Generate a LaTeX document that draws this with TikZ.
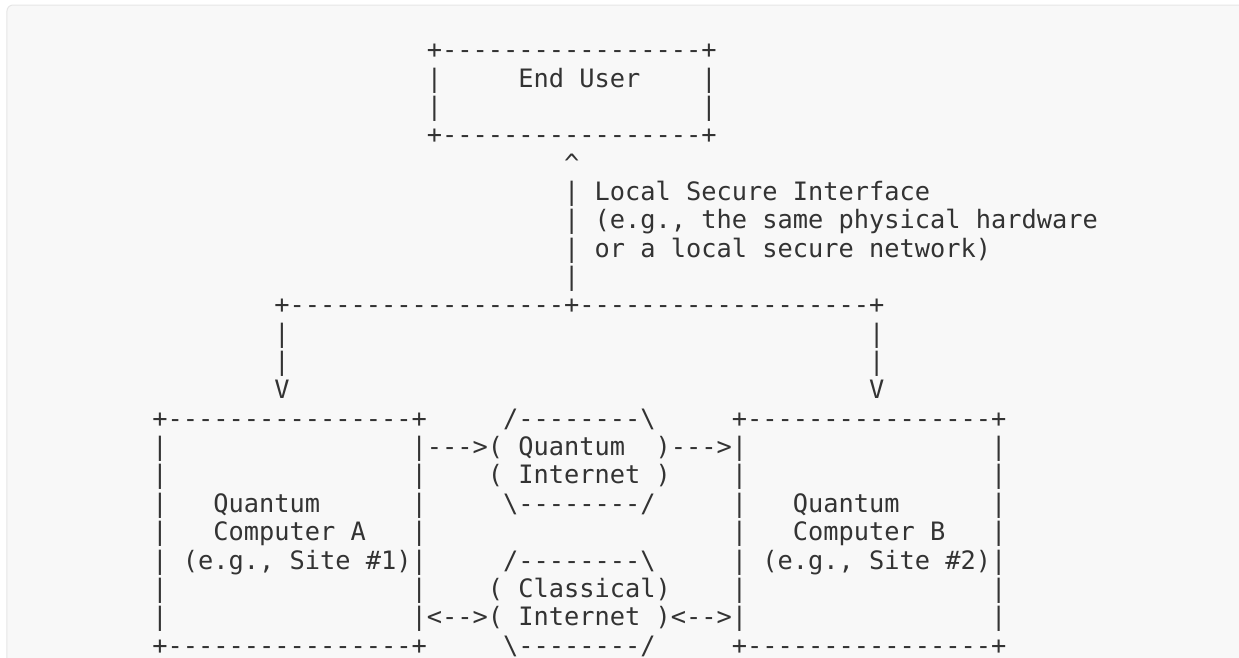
\documentclass[tikz,border=0pt]{standalone}
\usepackage{fontspec}
\setmonofont{DejaVu Sans Mono}
\definecolor{paper}{HTML}{F8F8F8}
\definecolor{rim}{HTML}{E6E6E6}
\definecolor{ink}{HTML}{333333}
\tikzset{
  txt/.style={anchor=base west, inner sep=0pt, outer sep=0pt, text=ink,
    font=\ttfamily\fontsize{19}{21}\selectfont},
}
\begin{document}
\begin{tikzpicture}[x=11.4375pt, y=-21.2625pt]
   \useasboundingbox (-9.993,-2.0706) rectangle (71.25,21.104);
   \draw[rim, fill=paper, line width=0.75pt, rounded corners=4.5pt] (-9.534,-1.894) rectangle (75,25);
   % end user box
   \node[txt] (usertop) at (18,0) {+-----------------+};
   \node[txt] (userl1) at (18,1) {|};
   \node[txt] (user) at (24,1) {End User};
   \node[txt] (userr1) at (36,1) {|};
   \node[txt] (userl2) at (18,2) {|};
   \node[txt] (userr2) at (36,2) {|};
   \node[txt] (userbot) at (18,3) {+-----------------+};
   % local interface
   \node[txt] (up) at (27,4) {\textasciicircum};
   \node[txt] (ifc1) at (27,5) {| Local Secure Interface};
   \node[txt] (ifc2) at (27,6) {| (e.g., the same physical hardware};
   \node[txt] (ifc3) at (27,7) {| or a local secure network)};
   \node[txt] (ifc4) at (27,8) {|};
   % split
   \node[txt] (split) at (8,9) {+------------------+-------------------+};
   \node[txt] (downl1) at (8,10) {|};
   \node[txt] (downr1) at (47,10) {|};
   \node[txt] (downl2) at (8,11) {|};
   \node[txt] (downr2) at (47,11) {|};
   \node[txt] (downl) at (8,12) {V};
   \node[txt] (downr) at (47,12) {V};
   % computer A
   \node[txt] (atop) at (0,13) {+----------------+};
   \foreach \r in {14,15,16,17,19,20} {
     \node[txt] (al\r) at (0,\r) {|};
   }
   \foreach \r in {15,16,17,19} {
     \node[txt] (ar\r) at (17,\r) {|};
   }
   \node[txt] (qa1) at (4,16) {Quantum};
   \node[txt] (qa2) at (4,17) {Computer A};
   \node[txt] (qa3) at (0,18) {| (e.g., Site \#1)|};
   \node[txt] (abot) at (0,21) {+----------------+};
   % computer B
   \node[txt] (btop) at (38,13) {+----------------+};
   \foreach \r in {14,15,16,17,19,20} {
     \node[txt] (br\r) at (55,\r) {|};
   }
   \foreach \r in {15,16,17,19} {
     \node[txt] (bl\r) at (38,\r) {|};
   }
   \node[txt] (qb1) at (42,16) {Quantum};
   \node[txt] (qb2) at (42,17) {Computer B};
   \node[txt] (qb3) at (38,18) {| (e.g., Site \#2)|};
   \node[txt] (bbot) at (38,21) {+----------------+};
   % quantum internet
   \node[txt] (qntop) at (23,13) {/--------\textbackslash};
   \node[txt] (qn1) at (17,14) {|--->( Quantum};
   \node[txt] (qn1r) at (33,14) {)--->|};
   \node[txt] (qn2) at (22,15) {( Internet )};
   \node[txt] (qnbot) at (23,16) {\textbackslash--------/};
   % classical internet
   \node[txt] (cntop) at (23,18) {/--------\textbackslash};
   \node[txt] (cn1) at (22,19) {( Classical)};
   \node[txt] (cn2) at (17,20) {|<-->( Internet )<-->|};
   \node[txt] (cnbot) at (23,21) {\textbackslash--------/};
\end{tikzpicture}
\end{document}
